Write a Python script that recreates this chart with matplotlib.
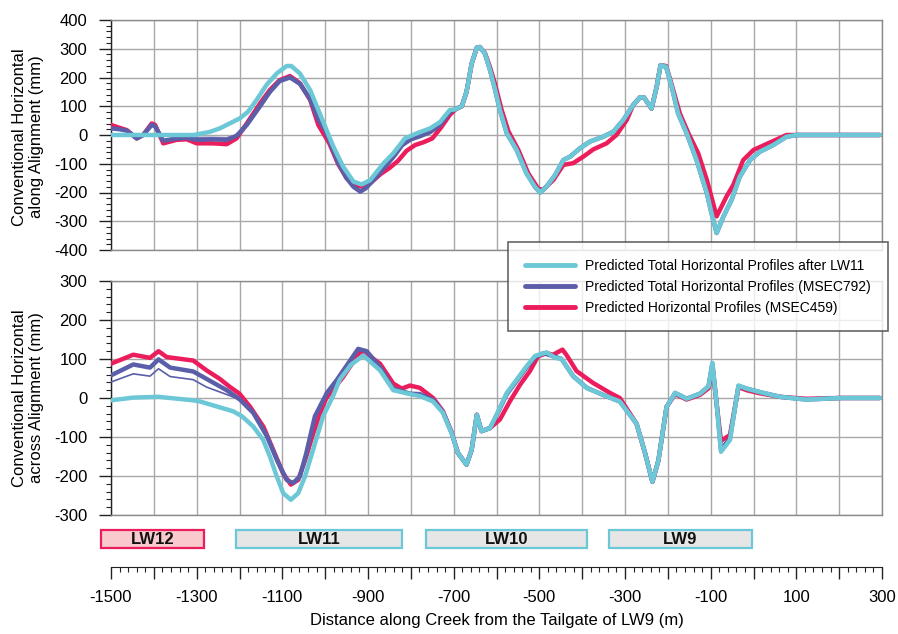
import matplotlib
matplotlib.use("Agg")
import matplotlib.pyplot as plt
from matplotlib.patches import Rectangle
from matplotlib.ticker import MultipleLocator

plt.rcParams['font.family'] = ['Liberation Sans', 'DejaVu Sans']
plt.rcParams['axes.unicode_minus'] = False

# ---------------- data ----------------
# Top panel: along alignment (mm)
top_cyan_x = [-1500, -1400, -1307, -1269, -1246, -1230, -1199, -1180, -1160, -1137, -1113, -1090,
              -1079, -1059, -1035, -1016, -1000, -981, -958, -934, -915, -895, -864, -841, -814,
              -786, -755, -732, -709, -697, -681, -670, -658, -646, -639, -627, -615, -604, -592,
              -576, -553, -530, -510, -498, -483, -463, -444, -428, -405, -382, -351, -327, -304,
              -281, -265, -256, -238, -226, -217, -204, -191, -176, -156, -133, -109, -98, -86,
              -70, -51, -32, -8, 15, 46, 77, 101, 200, 295]
top_cyan = [0, 0, 0, 11, 23, 35, 58, 81, 122, 174, 214, 240,
            240, 214, 156, 87, 29, -40, -110, -162, -172, -157, -99, -64, -12,
            6, 23, 45, 87, 89, 100, 150, 248, 304, 306, 283, 225, 162, 87,
            6, -52, -133, -181, -200, -179, -139, -87, -75, -46, -23, -6, 12, 52,
            104, 131, 131, 92, 168, 243, 237, 168, 75, 6, -87, -202, -272, -341,
            -283, -225, -145, -87, -58, -35, -6, 0, 0, 0]

top_blue_x = [-1500, -1480, -1463, -1440, -1425, -1405, -1397, -1378, -1347, -1323, -1300, -1262,
              -1230, -1207, -1183, -1152, -1129, -1106, -1082, -1059, -1035, -1016, -1000, -990,
              -970, -950, -934, -918, -905, -880, -860, -840, -820, -800, -780, -755, -732, -709,
              -697, -681, -670, -658, -646, -639, -627, -615, -604, -592, -576, -553, -530, -510,
              -498, -483, -463, -444, -428, -405, -382, -351, -327, -304, -281, -265, -256, -238,
              -226, -217, -204, -191, -176, -156, -133, -109, -98, -86, -70, -51, -32, -8, 15, 46,
              77, 101, 200, 295]
top_blue = [23, 20, 15, -12, 0, 35, 30, -20, -12, -10, -17, -15,
            -17, -3, 35, 100, 150, 188, 200, 178, 125, 55, 17, -20,
            -95, -150, -180, -197, -185, -145, -110, -75, -35, -15, -5, 10, 35, 80,
            89, 100, 150, 248, 304, 306, 283, 225, 162, 87, 6, -52, -133, -181,
            -200, -179, -139, -87, -75, -46, -23, -6, 12, 52, 104, 131, 131, 92,
            168, 243, 237, 168, 75, 6, -87, -202, -272, -341, -283, -225, -145, -87, -58, -35,
            -6, 0, 0, 0]

top_blue2_x = [-1330, -1300, -1262, -1230, -1207, -1190]
top_blue2 = [-5, -8, -8, -9, 0, 15]

top_red_x = [-1500, -1480, -1463, -1440, -1425, -1405, -1397, -1378, -1347, -1323, -1300, -1262,
             -1230, -1207, -1183, -1152, -1129, -1106, -1082, -1059, -1035, -1016, -1000, -990,
             -970, -950, -930, -912, -895, -870, -850, -830, -810, -790, -770, -750, -730, -709,
             -695, -681, -670, -658, -646, -639, -627, -615, -604, -588, -572, -549, -526, -502,
             -491, -467, -444, -421, -397, -374, -343, -320, -296, -281, -265, -256, -238, -226,
             -217, -204, -191, -172, -152, -129, -109, -86, -63, -47, -24, 0, 31, 77, 101, 200,
             295]
top_red = [35, 25, 17, -12, 0, 40, 35, -29, -17, -15, -29, -29,
           -32, -12, 40, 110, 157, 191, 205, 180, 122, 35, -5, -30,
           -100, -150, -175, -180, -168, -135, -115, -90, -55, -35, -25, -12, 25, 70,
           90, 100, 150, 248, 304, 306, 285, 235, 180, 87, 12, -52, -133, -188,
           -190, -156, -104, -98, -75, -50, -29, 0, 52, 104, 131, 131, 92, 168,
           243, 240, 175, 75, 6, -64, -156, -283, -214, -173, -87, -52, -31, 0, 0, 0,
           0]

# Bottom panel: across alignment (mm)
bot_cyan_x = [-1500, -1448, -1389, -1308, -1292, -1246, -1215, -1194, -1168, -1145, -1129, -1113,
              -1098, -1080, -1063, -1047, -1028, -1005, -982, -966, -940, -911, -872, -841, -802,
              -779, -748, -725, -705, -690, -670, -658, -646, -635, -615, -600, -576, -553, -530,
              -510, -483, -463, -448, -421, -389, -351, -312, -273, -253, -236, -222, -203, -183,
              -156, -125, -105, -96, -86, -76, -55, -35, -16, 15, 62, 124, 202, 295]
bot_cyan = [-6, 1, 3, -6, -9, -24, -34, -47, -73, -107, -150, -201,
            -244, -261, -244, -201, -132, -47, 4, 47, 85, 109, 71, 20, 10,
            5, -9, -38, -90, -141, -171, -133, -43, -85, -77, -43, 13, 47, 81,
            108, 117, 103, 100, 56, 25, 8, -9, -66, -142, -215, -160, -23, 13,
            -2, 11, 30, 90, -15, -138, -108, 32, 24, 15, 3, -4, 0, 0]

bot_blue_x = [-1500, -1448, -1409, -1389, -1362, -1308, -1277, -1230, -1199, -1168, -1136, -1113,
              -1090, -1075, -1059, -1044, -1024, -996, -973, -923, -903, -872, -841, -802, -779,
              -748, -725, -705, -690, -670, -658, -646, -635, -615, -600, -576, -553, -530, -510,
              -490, -470, -448, -421, -389, -351, -312, -273, -253, -236, -222, -203, -183, -156,
              -125, -105, -96, -86, -76, -55, -35, -16, 15, 62, 124, 202, 295]
bot_blue = [58, 86, 78, 99, 78, 68, 49, 20, -4, -38, -98, -158,
            -210, -218, -201, -141, -47, 13, 46, 126, 120, 79, 24, 11, 10,
            -5, -36, -88, -141, -171, -133, -43, -85, -77, -45, 10, 44, 78, 105,
            115, 108, 100, 56, 26, 8, -9, -66, -142, -215, -160, -23, 13, -2,
            11, 30, 88, -15, -132, -104, 31, 24, 15, 3, -4, 0, 0]

bot_blue2_x = [-1500, -1448, -1409, -1389, -1362, -1308, -1277, -1230, -1199, -1168]
bot_blue2 = [41, 62, 56, 75, 55, 47, 28, 9, -4, -38]

bot_red_x = [-1500, -1448, -1409, -1389, -1370, -1308, -1277, -1246, -1222, -1200, -1175, -1144,
             -1121, -1098, -1080, -1063, -1047, -1028, -1005, -997, -958, -919, -903, -872, -841,
             -821, -802, -779, -748, -725, -705, -690, -670, -658, -646, -635, -615, -592, -569,
             -545, -522, -503, -483, -468, -446, -437, -413, -375, -335, -312, -273, -253, -236,
             -222, -203, -183, -156, -125, -105, -96, -86, -76, -55, -35, -16, 15, 62, 124, 200,
             295]
bot_red = [88, 111, 103, 120, 105, 96, 71, 49, 28, 11, -23, -74,
           -134, -194, -222, -210, -160, -91, -20, 0, 54, 118, 113, 88, 37,
           24, 32, 26, 0, -34, -88, -141, -171, -133, -43, -85, -77, -55, -9,
           34, 69, 107, 115, 111, 124, 111, 69, 39, 13, 0, -66, -142, -215,
           -160, -23, 10, -4, 8, 25, 80, -15, -110, -95, 28, 20, 12, 3, -2, 0,
           0]

# Longwall panels
lw_names = ['LW12', 'LW11', 'LW10', 'LW9']
lw_start = [-1523, -1208, -765, -337]
lw_end = [-1283, -821, -389, -4]

x_ticks = list(range(-1500, 301, 100))
x_tick_labels = ['-1500', '', '-1300', '', '-1100', '', '-900', '', '-700', '', '-500', '',
                 '-300', '', '-100', '', '100', '', '300']

legend_labels = ['Predicted Total Horizontal Profiles after LW11',
                 'Predicted Total Horizontal Profiles (MSEC792)',
                 'Predicted Horizontal Profiles (MSEC459)']

# ---------------- style ----------------
C_CYAN = '#6CC8D6'
C_BLUE = '#5B5EA8'
C_RED = '#EC1D5C'
GRID = '#A8A8A8'

W, H = 898, 634
fig = plt.figure(figsize=(W / 100, H / 100), dpi=100)


def fx(px):
    return px / W


def fy(py):
    return 1 - py / H


def style_panel(ax, ylo, yhi):
    ax.set_xlim(-1500, 300)
    ax.set_ylim(ylo, yhi)
    ax.xaxis.set_major_locator(MultipleLocator(100))
    ax.yaxis.set_major_locator(MultipleLocator(100))
    ax.yaxis.set_minor_locator(MultipleLocator(20))
    ax.grid(True, which='major', color=GRID, lw=1.0)
    ax.set_axisbelow(True)
    ax.tick_params(axis='x', which='both', bottom=False, labelbottom=False)
    ax.tick_params(axis='y', which='major', length=8.6, width=1.0, pad=8.5,
                   labelsize=12, color='#222222')
    ax.tick_params(axis='y', which='minor', length=3.6, width=0.8, color='#222222')
    for s in ['top', 'right', 'bottom']:
        ax.spines[s].set_color('#8A8A8A')
        ax.spines[s].set_linewidth(1.0)
    ax.spines['left'].set_color('#222222')
    ax.spines['left'].set_linewidth(1.0)


ax1 = fig.add_axes([fx(111), fy(250), fx(771), 230 / H])
ax2 = fig.add_axes([fx(111), fy(515), fx(771), 234 / H])
style_panel(ax1, -400, 400)
style_panel(ax2, -300, 300)

LW = 3.2
kw = dict(solid_capstyle='round', solid_joinstyle='round')
l_red, = ax1.plot(top_red_x, top_red, color=C_RED, lw=LW, zorder=3, **kw)
l_blue, = ax1.plot(top_blue_x, top_blue, color=C_BLUE, lw=LW, zorder=4, **kw)
ax1.plot(top_blue2_x, top_blue2, color=C_BLUE, lw=1.0, zorder=4, alpha=0.7)
l_cyan, = ax1.plot(top_cyan_x, top_cyan, color=C_CYAN, lw=LW, zorder=5, **kw)

ax2.plot(bot_red_x, bot_red, color=C_RED, lw=LW, zorder=3, **kw)
ax2.plot(bot_blue_x, bot_blue, color=C_BLUE, lw=LW, zorder=4, **kw)
ax2.plot(bot_blue2_x, bot_blue2, color=C_BLUE, lw=1.2, zorder=4)
ax2.plot(bot_cyan_x, bot_cyan, color=C_CYAN, lw=LW, zorder=5, **kw)

fig.text(fx(28), fy(137), 'Conventional Horizontal\nalong Alignment (mm)', rotation=90,
         ha='center', va='center', fontsize=12, linespacing=1.15)
fig.text(fx(28), fy(398), 'Conventional Horizontal\nacross Alignment (mm)', rotation=90,
         ha='center', va='center', fontsize=12, linespacing=1.15)

# Longwall boxes
axb = fig.add_axes([fx(111), fy(552), fx(771), 24 / H])
axb.set_xlim(-1500, 300)
axb.set_ylim(0, 24)
axb.axis('off')
for i, name in enumerate(lw_names):
    if name == 'LW12':
        fc, ec = '#F9C9CD', C_RED
    else:
        fc, ec = '#E6E6E6', C_CYAN
    axb.add_patch(Rectangle((lw_start[i], 4), lw_end[i] - lw_start[i], 18,
                            facecolor=fc, edgecolor=ec, lw=1.6, clip_on=False))
    axb.text((lw_start[i] + lw_end[i]) / 2, 13, name, ha='center', va='center',
             fontsize=12, fontweight='bold', color='#111111')

# Bottom distance axis
axx = fig.add_axes([fx(111), fy(567), fx(771), 0.5 / H])
axx.set_xlim(-1500, 300)
axx.set_yticks([])
for s in ['top', 'right', 'left']:
    axx.spines[s].set_visible(False)
axx.spines['bottom'].set_color('#222222')
axx.patch.set_alpha(0)
axx.set_xticks(x_ticks)
axx.set_xticklabels(x_tick_labels)
axx.xaxis.set_minor_locator(MultipleLocator(20))
axx.tick_params(axis='x', which='major', length=8.6, width=1.0, pad=8, labelsize=12,
                color='#222222', direction='out')
axx.tick_params(axis='x', which='minor', length=3.6, width=0.8, color='#222222',
                direction='out')
axx.set_xlabel('Distance along Creek from the Tailgate of LW9 (m)', fontsize=12, labelpad=6)

leg = fig.legend([l_cyan, l_blue, l_red], legend_labels, loc='upper left',
                 bbox_to_anchor=(fx(508), fy(242)), fontsize=10, frameon=True,
                 fancybox=False, handlelength=3.6, handletextpad=0.75,
                 borderpad=1.2, labelspacing=0.5, borderaxespad=0)
leg.get_frame().set_edgecolor('#404040')
leg.get_frame().set_linewidth(1.2)
for h in leg.get_lines():
    h.set_linewidth(3.5)

fig.savefig('out.png', dpi=100)
